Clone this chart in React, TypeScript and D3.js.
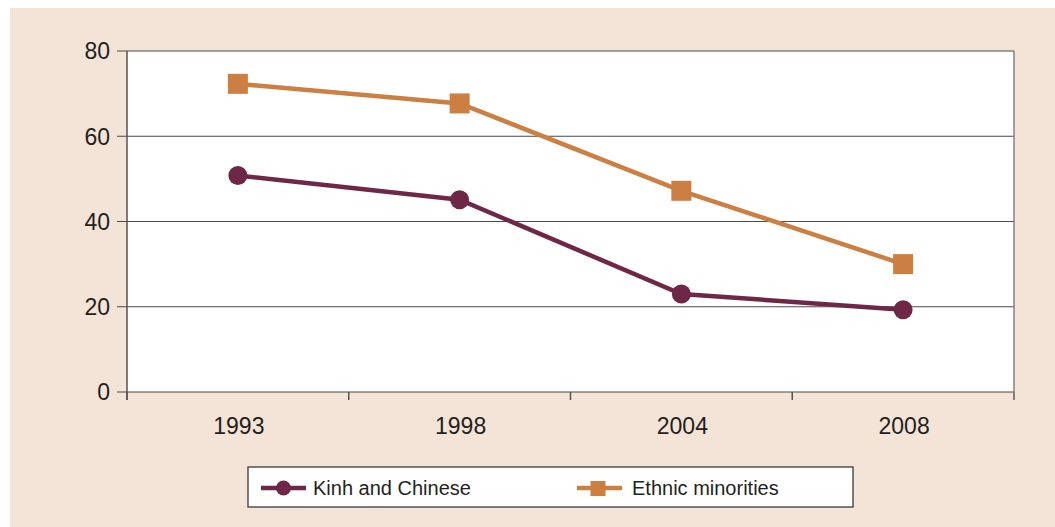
import React from "react";
import * as d3 from "d3";

// Poverty rates by group (%), survey years
const years = ["1993", "1998", "2004", "2008"];
const kinhChinese = [50.8, 45.1, 23.0, 19.3];
const ethnicMinorities = [72.3, 67.7, 47.2, 30.0];
const yTicks = [0, 20, 40, 60, 80];

const seriesNames = ["Kinh and Chinese", "Ethnic minorities"];
const MAROON = "#6e2747";
const ORANGE = "#cc7f42";
const BG = "#f4e3d7";
const TEXT = "#231f20";
const FONT = "'Liberation Sans', Arial, Helvetica, sans-serif";

const W = 1055;
const H = 527;
const plot = { left: 127, top: 51, right: 1014, bottom: 392 };

export default function App() {
  const x = d3
    .scaleBand<string>()
    .domain(years)
    .range([plot.left, plot.right])
    .paddingInner(0)
    .paddingOuter(0);
  const y = d3.scaleLinear().domain([0, 80]).range([plot.bottom, plot.top]);
  const cx = (yr: string) => (x(yr) ?? 0) + x.bandwidth() / 2;

  const line = d3
    .line<number>()
    .x((_, i) => cx(years[i]))
    .y((d) => y(d));

  const boundaries = [...years.map((yr) => x(yr) ?? 0), plot.right];
  const sq = 20;

  return (
    <svg
      width={W}
      height={H}
      style={{ position: "absolute", left: 0, top: 0, display: "block" }}
    >
      <rect x={0} y={0} width={W} height={H} fill="#ffffff" />
      <rect x={10} y={8} width={W - 10} height={H - 8} fill={BG} />
      <rect
        x={plot.left}
        y={plot.top}
        width={plot.right - plot.left}
        height={plot.bottom - plot.top}
        fill="#ffffff"
      />

      {/* horizontal gridlines and y tick labels */}
      {yTicks.map((t) => (
        <g key={t}>
          <line
            x1={plot.left - 10}
            x2={plot.right}
            y1={y(t)}
            y2={y(t)}
            stroke="#4a4a4a"
            strokeWidth={1.2}
          />
          <text
            x={plot.left - 17}
            y={y(t)}
            dy="0.36em"
            textAnchor="end"
            fontFamily={FONT}
            fontSize={23}
            fill={TEXT}
          >
            {t}
          </text>
        </g>
      ))}

      {/* axes frame */}
      <line
        x1={plot.left}
        x2={plot.left}
        y1={plot.top}
        y2={plot.bottom + 8}
        stroke="#5a5050"
        strokeWidth={1.5}
      />
      {boundaries.map((bx, i) => (
        <line
          key={i}
          x1={bx}
          x2={bx}
          y1={plot.bottom}
          y2={plot.bottom + 8}
          stroke="#5a5050"
          strokeWidth={1.5}
        />
      ))}
      <line
        x1={plot.right}
        x2={plot.right}
        y1={plot.top}
        y2={plot.bottom + 8}
        stroke="#8a8080"
        strokeWidth={1.5}
      />

      {/* x labels */}
      {years.map((yr) => (
        <text
          key={yr}
          x={cx(yr) + 1}
          y={434}
          textAnchor="middle"
          fontFamily={FONT}
          fontSize={23}
          fill={TEXT}
        >
          {yr}
        </text>
      ))}

      {/* series lines */}
      <path
        d={line(ethnicMinorities) ?? ""}
        fill="none"
        stroke={ORANGE}
        strokeWidth={4.5}
      />
      {ethnicMinorities.map((v, i) => (
        <rect
          key={i}
          x={cx(years[i]) - sq / 2}
          y={y(v) - sq / 2}
          width={sq}
          height={sq}
          fill={ORANGE}
        />
      ))}
      <path
        d={line(kinhChinese) ?? ""}
        fill="none"
        stroke={MAROON}
        strokeWidth={4.5}
      />
      {kinhChinese.map((v, i) => (
        <circle key={i} cx={cx(years[i])} cy={y(v)} r={9.5} fill={MAROON} />
      ))}

      {/* legend */}
      <rect
        x={248}
        y={467}
        width={605}
        height={40}
        fill="#ffffff"
        stroke="#3a3a3a"
        strokeWidth={1.3}
      />
      <line x1={261} x2={306} y1={488} y2={488} stroke={MAROON} strokeWidth={4.5} />
      <circle cx={283.5} cy={488} r={7.5} fill={MAROON} />
      <text x={313} y={488} dy="0.36em" fontFamily={FONT} fontSize={20} fill={TEXT}>
        {seriesNames[0]}
      </text>
      <line x1={577} x2={622} y1={488} y2={488} stroke={ORANGE} strokeWidth={4.5} />
      <rect x={590.5} y={481} width={15} height={15} fill={ORANGE} />
      <text x={632} y={488} dy="0.36em" fontFamily={FONT} fontSize={20} fill={TEXT}>
        {seriesNames[1]}
      </text>
    </svg>
  );
}
